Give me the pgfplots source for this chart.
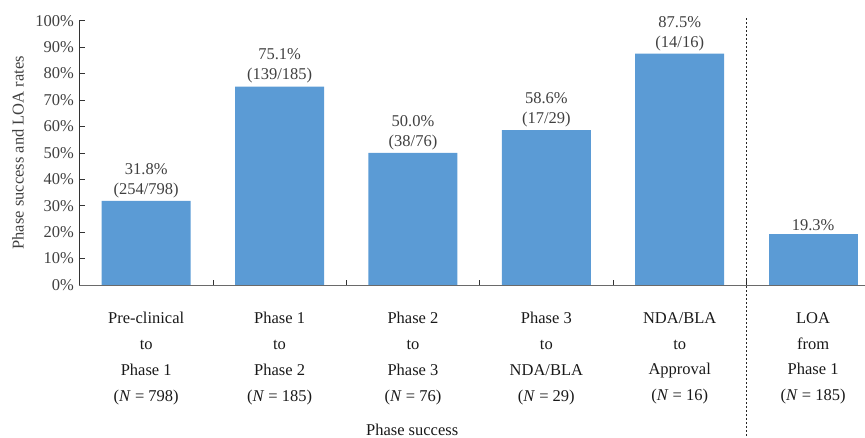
\documentclass[border=0pt]{standalone}
\usepackage{pgfplots}
\pgfplotsset{compat=1.18}
\usepackage{fontspec}
\setmainfont{Liberation Serif}
\definecolor{barblue}{HTML}{5B9BD5}
\definecolor{txt}{HTML}{404040}
\definecolor{axisgray}{HTML}{6A6A6A}

\pgfplotstableread{
x y num den
0 31.8 254 798
1 75.1 139 185
2 50.0 38 76
3 58.6 17 29
4 87.5 14 16
}\phasedata

\pgfplotstableread{
x y
5 19.3
}\loadata

\begin{document}
\begin{tikzpicture}
\path[use as bounding box] (-79.5pt,-153pt) rectangle (785.5pt,285pt);
\begin{axis}[
  at={(0,0)}, anchor=south west,
  scale only axis, width=785.5pt, height=264.3pt,
  xmin=-0.5, xmax=5.389, ymin=0, ymax=100,
  axis x line*=bottom, axis y line*=left,
  axis line style={-, axisgray, line width=0.8pt},
  y axis line style={black!80},
  clip=false,
  ybar, bar width=89pt,
  /pgf/number format/assume math mode=true,
  xtick={0,...,5},
  xticklabels={
    {Pre-clinical\\to\\Phase 1\\(\textit{N} = 798)},
    {Phase 1\\to\\Phase 2\\(\textit{N} = 185)},
    {Phase 2\\to\\Phase 3\\(\textit{N} = 76)},
    {Phase 3\\to\\NDA/BLA\\(\textit{N} = 29)},
    {NDA/BLA\\to\\Approval\\(\textit{N} = 16)},
    {LOA\\from\\Phase 1\\(\textit{N} = 185)}},
  major x tick style={draw=none},
  minor xtick={0.5,1.5,2.5,3.5,4.5},
  minor x tick style={black!80, line width=0.6pt},
  ytick={0,10,...,100},
  yticklabel={\pgfmathprintnumber{\tick}\%},
  y tick style={black!80, line width=0.6pt},
  tick align=inside,
  major tick length=5pt, minor tick length=5pt,
  xticklabel style={align=center, font=\fontsize{16.5}{25.7}\selectfont, text=black!90, yshift=-24pt},
  yticklabel style={font=\fontsize{16.5}{19.8}\selectfont, text=txt, xshift=-2pt},
  xlabel={Phase success},
  xlabel style={at={(axis description cs:0.4235,0)}, anchor=center, yshift=-145pt,
    font=\fontsize{16.5}{19.8}\selectfont, text=black!90},
  ylabel={Phase success and LOA rates},
  ylabel style={at={([xshift=-61.5pt]axis description cs:0,0.5)}, anchor=center,
    font=\fontsize{16.5}{19.8}\selectfont, text=txt},
  nodes near coords style={align=center, font=\fontsize{16.5}{19.8}\selectfont, text=txt, inner sep=3pt},
]
\addplot[fill=barblue, draw=none, bar shift=0pt,
  visualization depends on={\thisrow{num} \as \num},
  visualization depends on={\thisrow{den} \as \den},
  nodes near coords={\pgfmathprintnumber[fixed,fixed zerofill,precision=1]{\pgfplotspointmeta}\%\\(\pgfmathprintnumber[fixed,precision=0]{\num}/\pgfmathprintnumber[fixed,precision=0]{\den})}]
  table[x=x, y=y] {\phasedata};
\addplot[fill=barblue, draw=none, bar shift=0pt,
  nodes near coords={\pgfmathprintnumber[fixed,fixed zerofill,precision=1]{\pgfplotspointmeta}\%}]
  table[x=x, y=y] {\loadata};
% separator between phase transitions and overall likelihood of approval
\draw[black!85, line width=0.6pt, dash pattern=on 2pt off 2pt]
  (axis cs:4.5,101) -- ([yshift=-153pt]axis cs:4.5,0);
\end{axis}
\end{tikzpicture}
\end{document}
